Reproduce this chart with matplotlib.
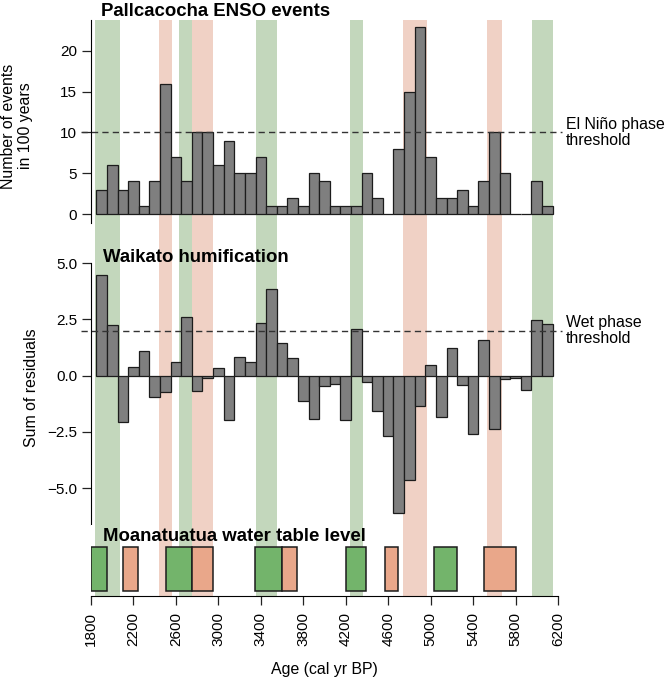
import matplotlib
matplotlib.use("Agg")
import matplotlib.pyplot as plt
from matplotlib.transforms import blended_transform_factory

plt.rcParams["font.family"] = ["Liberation Sans", "DejaVu Sans"]

# Bin centres (cal yr BP), 100-year bins
ages = list(range(1900, 6200, 100))

# Pallcacocha ENSO events per 100 years
enso_events = [3, 6, 3, 4, 1, 4, 16, 7, 4, 10, 10, 6, 9, 5, 5, 7, 1, 1, 2, 1, 5, 4,
               1, 1, 1, 5, 2, 0, 8, 15, 23, 7, 2, 2, 3, 1, 4, 10, 5, 0, 0, 4, 1]

# Waikato humification, sum of residuals
waikato_resid = [4.47, 2.24, -2.04, 0.40, 1.08, -0.93, -0.74, 0.59, 2.59, -0.67, -0.12,
                 0.34, -1.99, 0.83, 0.62, 2.33, 3.84, 1.45, 0.80, -1.11, -1.91, -0.47,
                 -0.39, -1.96, 2.06, -0.30, -1.59, -2.67, -6.10, -4.64, -1.33, 0.49,
                 -1.82, 1.23, -0.40, -2.59, 1.57, -2.36, -0.15, -0.09, -0.64, 2.49, 2.31]

enso_threshold = 10
wet_threshold = 2.0

# Shaded phases across all panels (start, end in cal yr BP)
wet_bands = [(1840, 2075), (2630, 2752), (3356, 3554), (4242, 4365), (5958, 6156)]
dry_bands = [(2441, 2564), (2752, 2950), (4742, 4968), (5534, 5675)]

# Moanatuatua water table level boxes
mo_wet = [(1797, 1951), (2504, 2755), (3346, 3598), (4198, 4393), (5028, 5248)]
mo_dry = [(2102, 2240), (2755, 2950), (3598, 3742), (4569, 4688), (5505, 5804)]

x_ticks = list(range(1800, 6600, 400))

GREEN_BAND = "#c3d7bc"
RED_BAND = "#f0d1c5"
GREEN_BOX = "#73b46b"
RED_BOX = "#e9a78a"
BAR_GREY = "#7f7f7f"
EDGE = "#1c1c1c"

W, H = 668, 679
fig = plt.figure(figsize=(W / 100, H / 100), dpi=100)


def px_axes(top, bottom, left=91, right=558):
  return fig.add_axes([left / W, 1 - bottom / H, (right - left) / W, (bottom - top) / H])


ax1 = px_axes(20, 226)
ax2 = px_axes(226, 525)
ax3 = px_axes(525, 596)

for ax in (ax1, ax2, ax3):
  ax.set_xlim(1800, 6200)
  for s, e in wet_bands:
    ax.axvspan(s, e, color=GREEN_BAND, lw=0, zorder=0)
  for s, e in dry_bands:
    ax.axvspan(s, e, color=RED_BAND, lw=0, zorder=0)
  ax.spines["top"].set_visible(False)
  ax.spines["right"].set_visible(False)
  ax.tick_params(axis="both", labelsize=11, length=6.5, width=0.9, pad=3.5, color="#222222")

# Top panel
ax1.bar(ages, enso_events, width=100, color=BAR_GREY, edgecolor=EDGE, linewidth=0.9, zorder=2)
ax1.set_ylim(-1.47, 23.8)
ax1.set_yticks([0, 5, 10, 15, 20])
ax1.spines["left"].set_bounds(-1.1, 23.8)
ax1.spines["bottom"].set_visible(False)
ax1.tick_params(axis="x", bottom=False, labelbottom=False)
tr1 = blended_transform_factory(ax1.transAxes, ax1.transData)
ax1.plot([-0.021, 1.008], [enso_threshold] * 2, transform=tr1, clip_on=False,
         color="#333333", lw=1.0, ls=(0, (4.5, 3)), zorder=3)
ax1.text(1.017, enso_threshold, "El Niño phase\nthreshold", transform=tr1,
         ha="left", va="center", fontsize=11.4, linespacing=1.05)

# Middle panel
ax2.bar(ages, waikato_resid, width=100, color=BAR_GREY, edgecolor=EDGE, linewidth=0.9, zorder=2)
ax2.set_ylim(-6.64, 6.65)
ax2.set_yticks([-5.0, -2.5, 0.0, 2.5, 5.0])
ax2.spines["left"].set_bounds(-6.64, 5.0)
ax2.spines["bottom"].set_visible(False)
ax2.tick_params(axis="x", bottom=False, labelbottom=False)
tr2 = blended_transform_factory(ax2.transAxes, ax2.transData)
ax2.plot([-0.021, 1.008], [wet_threshold] * 2, transform=tr2, clip_on=False,
         color="#333333", lw=1.0, ls=(0, (4.5, 3)), zorder=3)
ax2.text(1.017, wet_threshold, "Wet phase\nthreshold", transform=tr2,
         ha="left", va="center", fontsize=11.4, linespacing=1.05)

# Bottom panel
ax3.set_ylim(0, 1)
for boxes, col in ((mo_wet, GREEN_BOX), (mo_dry, RED_BOX)):
  ax3.bar([s for s, e in boxes], 0.62, width=[e - s for s, e in boxes], bottom=0.07,
          align="edge", color=col, edgecolor=EDGE, linewidth=1.1, zorder=2)
ax3.spines["left"].set_visible(False)
ax3.spines["bottom"].set_bounds(1800, 6200)
ax3.tick_params(axis="y", left=False, labelleft=False)
ax3.tick_params(axis="x", pad=5)
ax3.set_xticks(x_ticks)
ax3.set_xticklabels([str(t) for t in x_ticks], rotation=90)

# Titles and labels
fig.text(101 / W, 1 - 16 / H, "Pallcacocha ENSO events", fontsize=13.4, fontweight="bold", va="baseline")
fig.text(103 / W, 1 - 261.7 / H, "Waikato humification", fontsize=13.4, fontweight="bold", va="baseline")
fig.text(103 / W, 1 - 540.7 / H, "Moanatuatua water table level", fontsize=13.4, fontweight="bold", va="baseline")

fig.text(17 / W, 1 - 126 / H, "Number of events\nin 100 years", rotation=90,
         ha="center", va="center", fontsize=11.4, linespacing=1.1)
fig.text(31 / W, 1 - 388 / H, "Sum of residuals", rotation=90,
         ha="center", va="center", fontsize=11.4)
fig.text(324.5 / W, 1 - 674 / H, "Age (cal yr BP)", ha="center", va="baseline", fontsize=11.4)

fig.savefig("out.png", dpi=100)
